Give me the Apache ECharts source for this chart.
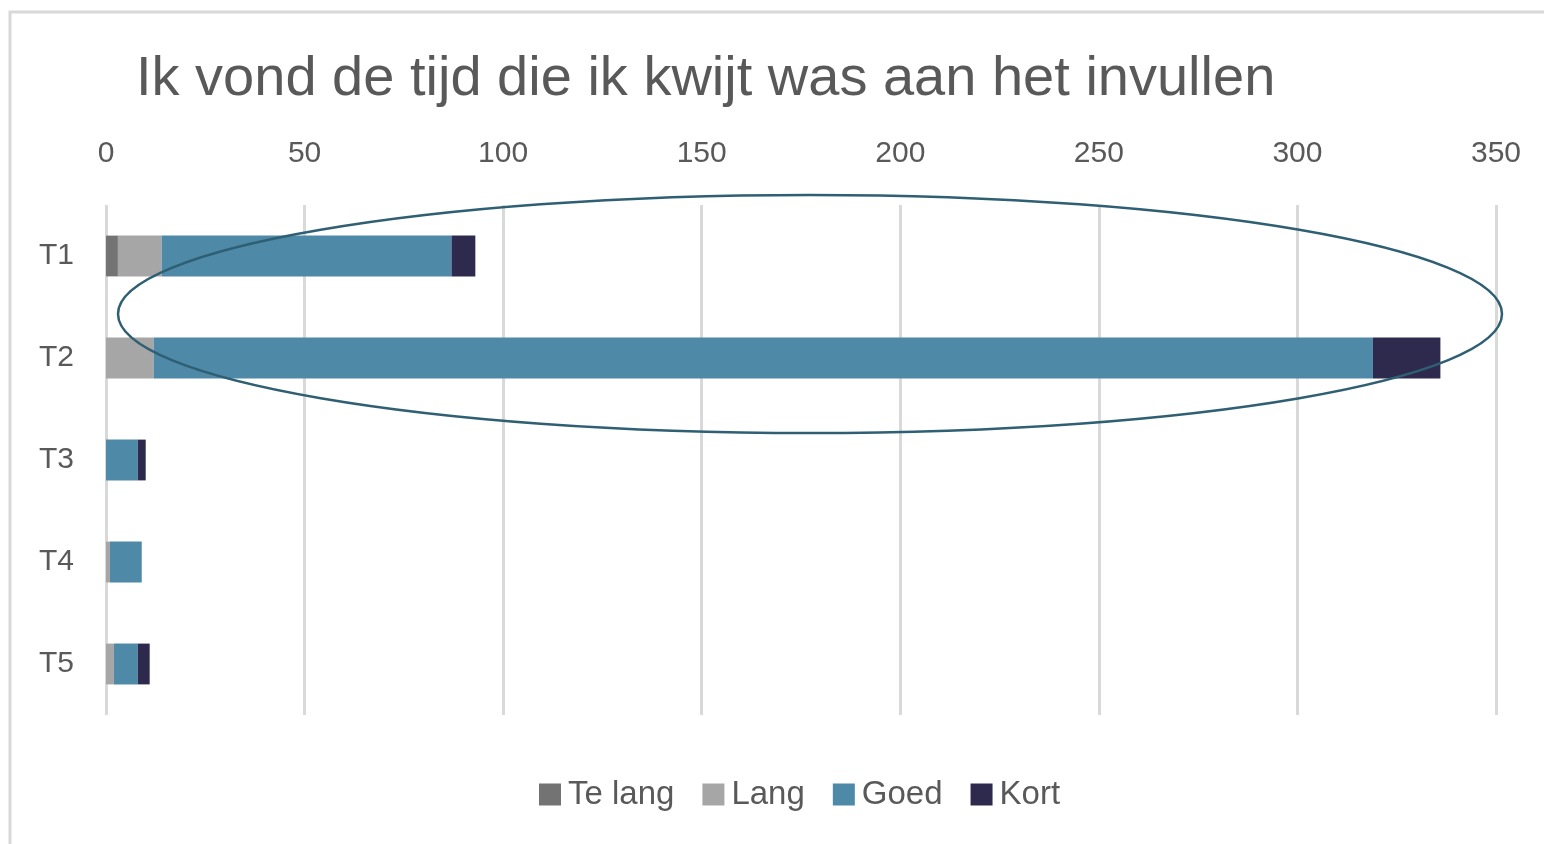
<!DOCTYPE html>
<html><head><meta charset="utf-8">
<script src="https://cdn.jsdelivr.net/npm/echarts@6/dist/echarts.min.js"></script>
<style>html,body{margin:0;padding:0;background:#fff}#c{width:1544px;height:844px}</style>
</head><body><div id="c"></div>
<script>
const categories = ['T1','T2','T3','T4','T5'];
const teLang = [3, 0, 0, 0, 0];
const lang = [11, 12, 0, 1, 2];
const goed = [73, 307, 8, 8, 6];
const kort = [6, 17, 2, 0, 3];
const xTicks = [0, 50, 100, 150, 200, 250, 300, 350];

const chart = echarts.init(document.getElementById('c'));
const font = 'Liberation Sans Narrow, Liberation Sans, sans-serif';
function s(name, data, color) {
  return { name, type: 'bar', stack: 'a', data, barWidth: '40%', itemStyle: { color }, emphasis: { disabled: true } };
}
chart.setOption({
  animation: false,
  title: { text: 'Ik vond de tijd die ik kwijt was aan het invullen', left: 131, top: 47,
    textStyle: { fontFamily: font, fontSize: 56, fontWeight: 'normal', color: '#595959' } },
  grid: { left: 106, right: 48, top: 205, bottom: 129 },
  xAxis: { type: 'value', position: 'top', min: 0, max: 350, interval: 50,
    axisLine: { show: false }, axisTick: { show: false },
    axisLabel: { fontFamily: font, fontSize: 30, color: '#595959', margin: 36 },
    splitLine: { lineStyle: { color: '#d9d9d9', width: 3 } } },
  yAxis: { type: 'category', data: categories, inverse: true,
    axisLine: { show: false }, axisTick: { show: false },
    axisLabel: { fontFamily: font, fontSize: 30, color: '#595959', margin: 32 } },
  legend: { bottom: 28, left: 534, itemWidth: 22, itemHeight: 22, itemGap: 28,
    icon: 'rect',
    textStyle: { fontFamily: font, fontSize: 33, color: '#595959', padding: [0, 0, 0, 2] } },
  series: [
    s('Te lang', teLang, '#737373'),
    s('Lang', lang, '#a6a6a6'),
    s('Goed', goed, '#4f89a8'),
    s('Kort', kort, '#2e2a4e')
  ],
  graphic: [
    { type: 'rect', shape: { x: 10, y: 12, width: 1560, height: 860 }, style: { fill: 'none', stroke: '#d9d9d9', lineWidth: 3 }, silent: true },
    { type: 'ellipse', shape: { cx: 810, cy: 314, rx: 692, ry: 119 }, style: { fill: 'none', stroke: '#2f5f73', lineWidth: 2.5 }, z: 100, silent: true }
  ]
});
</script></body></html>
